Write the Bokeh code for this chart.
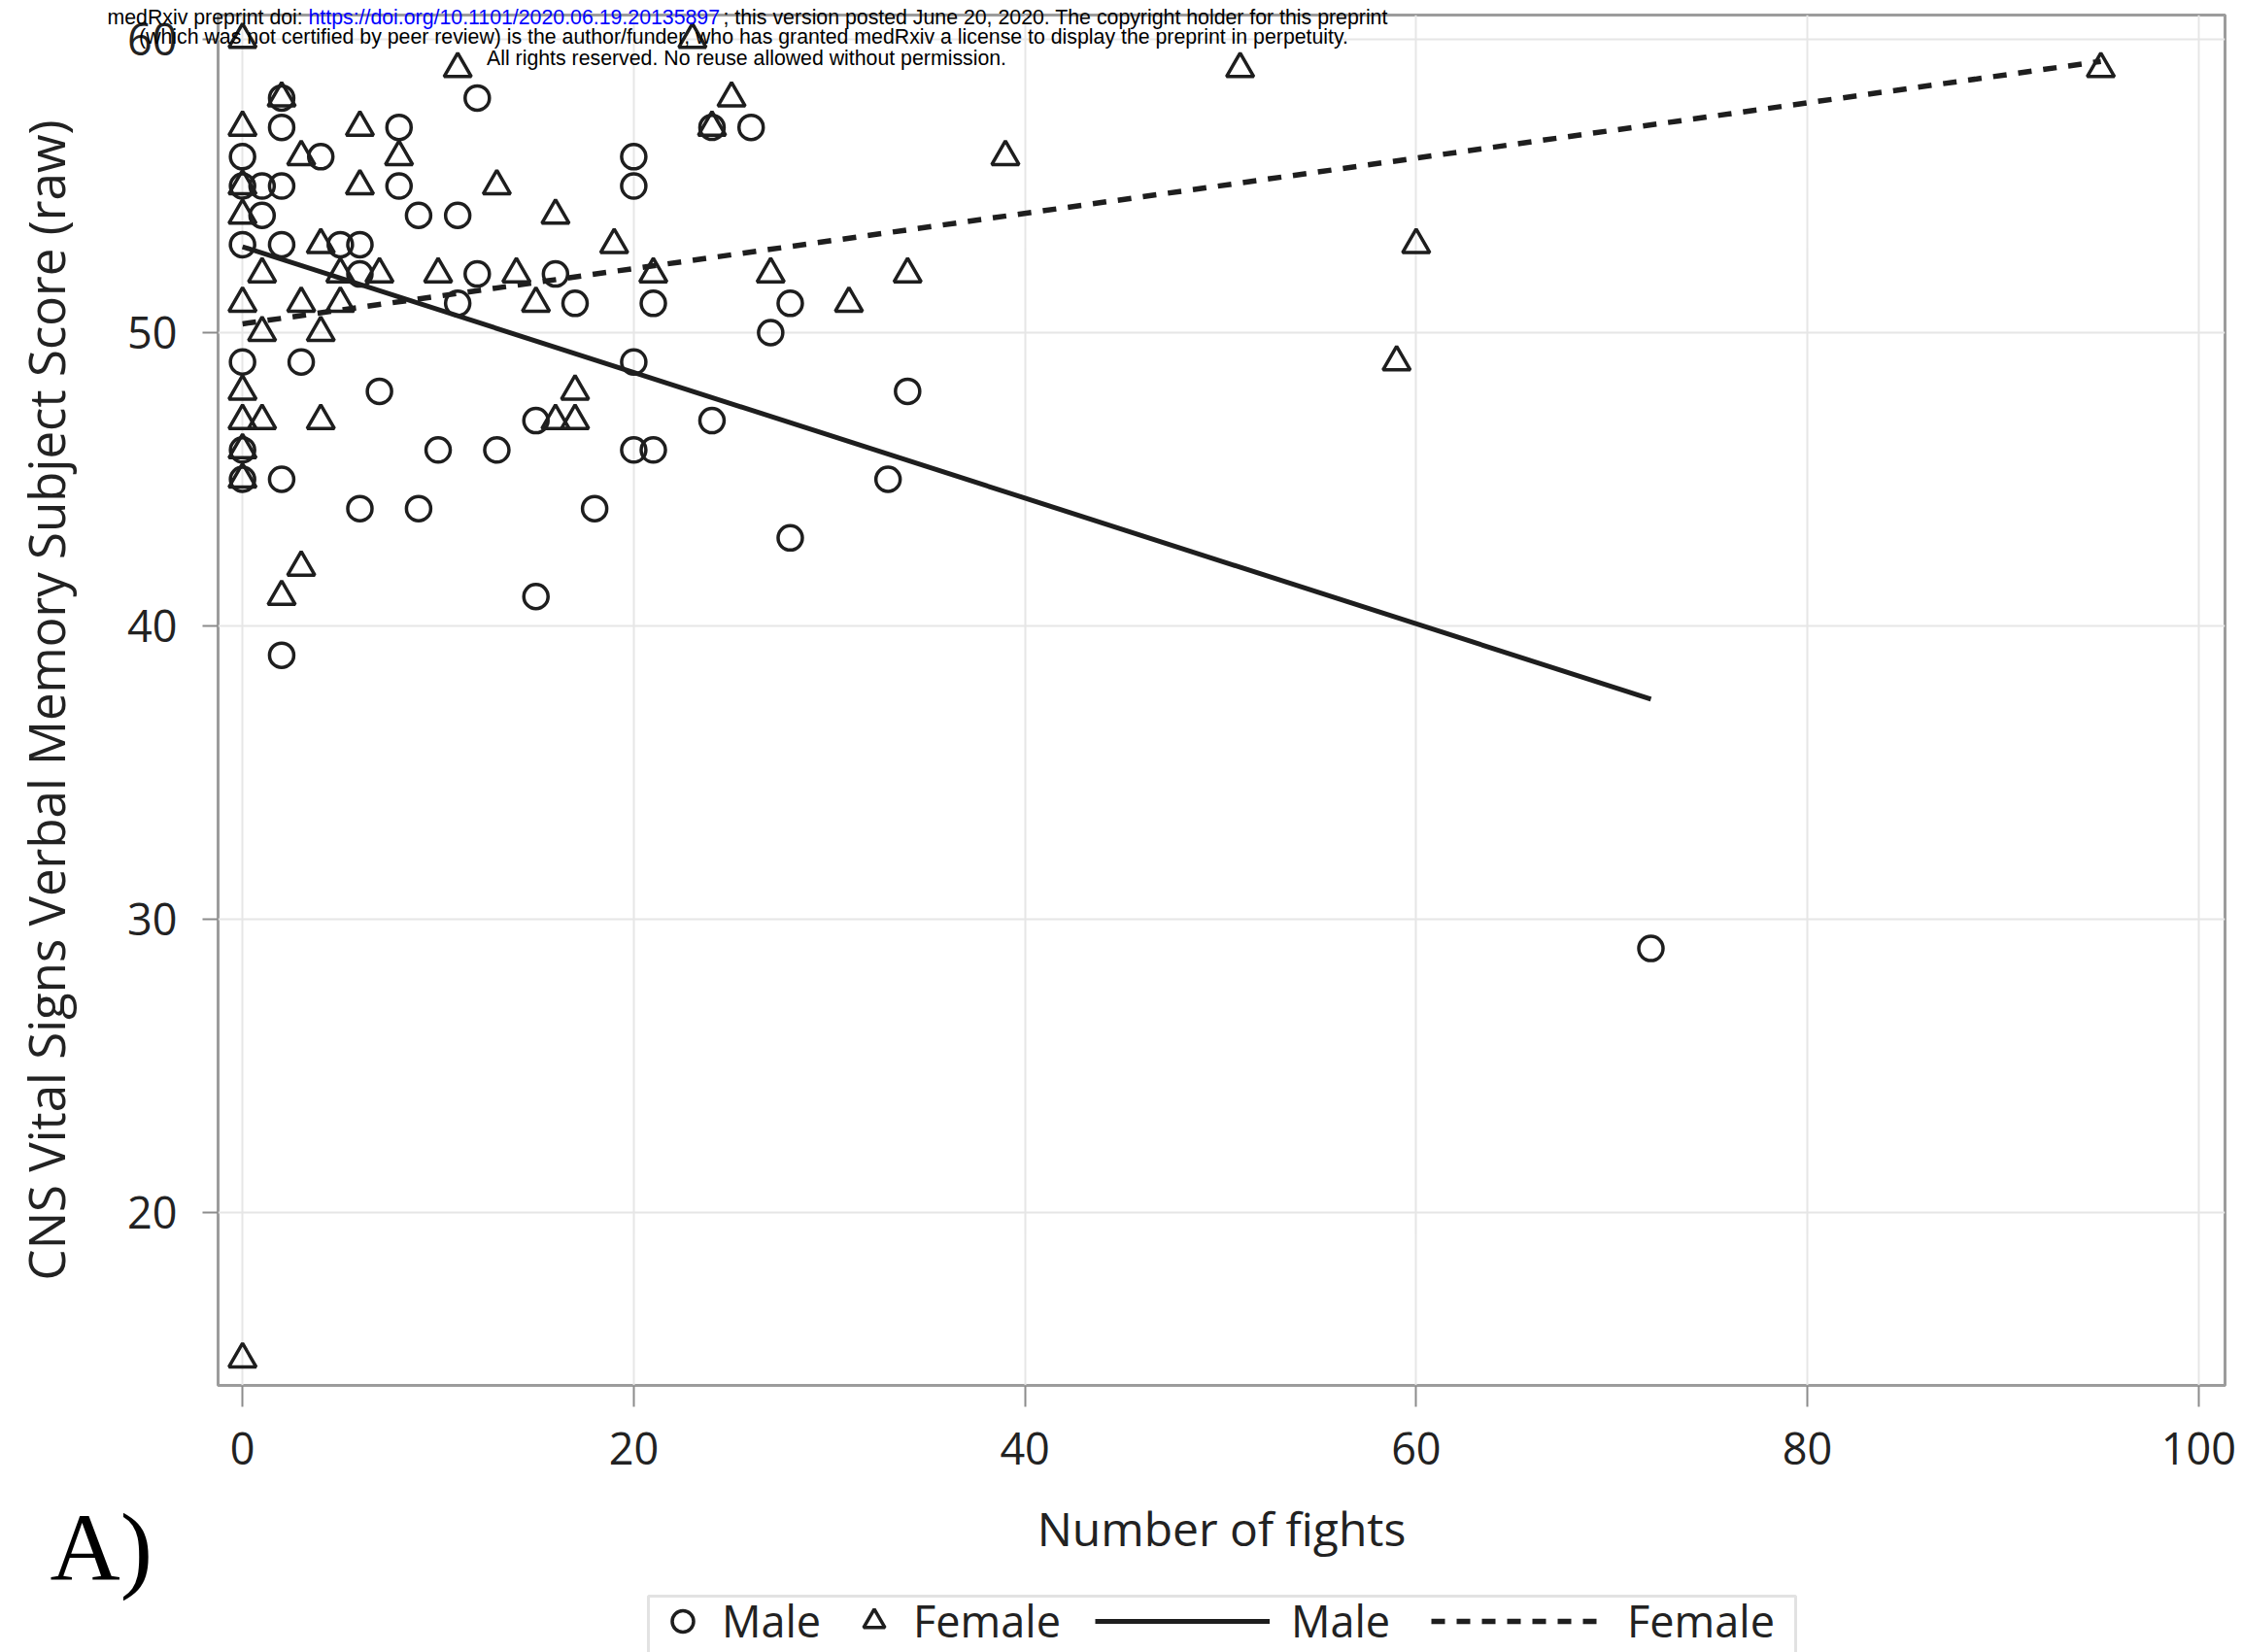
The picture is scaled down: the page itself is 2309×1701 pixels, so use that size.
from bokeh.plotting import figure
from bokeh.models import Label, Legend, LegendItem, BoxAnnotation, FixedTicker, Range1d
from bokeh.embed import file_html
from bokeh.resources import INLINE

# ---------------- data ----------------
male_fights = [0, 0, 1, 2, 8, 20,
               2, 12,
               2, 8, 24, 26,
               4, 20,
               1, 9, 11,
               0, 2, 5, 6,
               6, 12, 16,
               11, 17, 21, 28,
               27,
               0, 3, 20,
               7, 34,
               15, 24,
               0, 10, 13, 20, 21,
               0, 2, 33,
               6, 9, 18,
               28, 15, 2, 72]
male_score = [56, 55, 55, 55, 55, 55,
              58, 58,
              57, 57, 57, 57,
              56, 56,
              54, 54, 54,
              53, 53, 53, 53,
              52, 52, 52,
              51, 51, 51, 51,
              50,
              49, 49, 49,
              48, 48,
              47, 47,
              46, 46, 46, 46, 46,
              45, 45, 45,
              44, 44, 44,
              43, 41, 39, 29]

female_fights = [0, 23,
                 11, 51, 95,
                 2, 25,
                 0, 6, 24,
                 3, 8, 39,
                 0, 6, 13,
                 0, 16,
                 4, 19, 60,
                 1, 5, 7, 10, 14, 21, 27, 34,
                 0, 3, 5, 15, 31,
                 1, 4,
                 59,
                 0, 17,
                 0, 1, 4, 16, 17,
                 0, 0,
                 3, 2,
                 0]
female_score = [60, 60,
                59, 59, 59,
                58, 58,
                57, 57, 57,
                56, 56, 56,
                55, 55, 55,
                54, 54,
                53, 53, 53,
                52, 52, 52, 52, 52, 52, 52, 52,
                51, 51, 51, 51, 51,
                50, 50,
                49,
                48, 48,
                47, 47, 47, 47, 47,
                46, 45,
                42, 41,
                15]

male_fit_x = [0, 72]
male_fit_y = [52.93, 37.5]
female_fit_x = [0, 95]
female_fit_y = [50.3, 59.25]

x_ticks = [0, 20, 40, 60, 80, 100]
y_ticks = [20, 30, 40, 50, 60]

x_label = "Number of fights"
y_label = "CNS Vital Signs Verbal Memory Subject Score (raw)"
legend_labels = ["Male", "Female", "Male", "Female"]

header1a = "medRxiv preprint doi: "
header1b = "https://doi.org/10.1101/2020.06.19.20135897"
header1c = "; this version posted June 20, 2020. The copyright holder for this preprint"
header2 = "(which was not certified by peer review) is the author/funder, who has granted medRxiv a license to display the preprint in perpetuity."
header3 = "All rights reserved. No reuse allowed without permission."
panel_tag = "A)"

# ---------------- main figure ----------------
W, H = 2309, 1701
FL, FR, FT, FB = 224, 2290, 15, 1426   # frame edges in canvas px

p = figure(width=W, height=H, output_backend="svg", toolbar_location=None,
           x_range=Range1d(-1.25, 101.35), y_range=Range1d(14.1, 60.83),
           min_border_left=FL, min_border_right=W - FR,
           min_border_top=FT, min_border_bottom=H - FB)

p.background_fill_color = "white"
p.border_fill_color = "white"
p.outline_line_color = "#9c9c9c"
p.outline_line_width = 3

p.xaxis.ticker = FixedTicker(ticks=x_ticks)
p.yaxis.ticker = FixedTicker(ticks=y_ticks)
p.xgrid.ticker = FixedTicker(ticks=x_ticks)
p.ygrid.ticker = FixedTicker(ticks=y_ticks)
for g in (p.xgrid[0], p.ygrid[0]):
    g.grid_line_color = "#e6e6e6"
    g.grid_line_width = 2

FONT = "Open Sans"
INK = "#1e1e1e"
for ax in (p.xaxis[0], p.yaxis[0]):
    ax.axis_line_color = None
    ax.major_tick_line_color = "#8c8c8c"
    ax.major_tick_line_width = 2
    ax.major_tick_in = 0
    ax.minor_tick_line_color = None
    ax.major_label_text_font = FONT
    ax.major_label_text_font_size = "45px"
    ax.major_label_text_color = "#222222"
    ax.axis_label_text_font = FONT
    ax.axis_label_text_font_style = "normal"
    ax.axis_label_text_color = "#222222"

p.xaxis.axis_label = x_label
p.yaxis.axis_label = y_label
p.xaxis.axis_label_text_font_size = "48px"
p.yaxis.axis_label_text_font_size = "51px"
p.xaxis.major_tick_out = 22
p.yaxis.major_tick_out = 16
p.xaxis.major_label_standoff = 26
p.yaxis.major_label_standoff = 26
p.xaxis.axis_label_standoff = 30
p.yaxis.axis_label_standoff = 46

MARK_M = dict(marker="circle", size=25, fill_color=None, line_color=INK, line_width=3.5)
MARK_F = dict(marker="triangle", size=28, fill_color=None, line_color=INK, line_width=3.5)
LINE_M = dict(line_color=INK, line_width=5)
LINE_F = dict(line_color=INK, line_width=5.5, line_dash="14 12")

p.scatter(male_fights, male_score, **MARK_M)
p.scatter(female_fights, female_score, **MARK_F)
p.line(male_fit_x, male_fit_y, **LINE_M)
p.line(female_fit_x, female_fit_y, **LINE_F)

# ---------------- overlay (header, panel tag, legend) ----------------
# transparent figure laid over the whole page; its data units are page pixels
ov = figure(width=W, height=H, output_backend="svg", toolbar_location=None,
            x_range=Range1d(0, W), y_range=Range1d(H, 0),
            x_axis_type=None, y_axis_type=None,
            min_border=0, min_border_left=0, min_border_right=0,
            min_border_top=0, min_border_bottom=0)
ov.background_fill_color = None
ov.border_fill_color = None
ov.outline_line_color = None
ov.styles = {"position": "absolute", "left": "0px", "top": "0px"}

# hidden copies of the series, used only as legend keys
k_male = ov.scatter(male_fights, male_score, visible=False, **MARK_M)
k_female = ov.scatter(female_fights, female_score, visible=False, **MARK_F)
k_mfit = ov.line(male_fit_x, male_fit_y, visible=False, **LINE_M)
k_ffit = ov.line(female_fit_x, female_fit_y, visible=False, **LINE_F)

ov.add_layout(BoxAnnotation(left=667, right=1848, top=1643, bottom=1760,
                            fill_alpha=0, line_color="#a0a0a0", line_width=3))

LH = 58
PAD = 3
leg_common = dict(orientation="horizontal", border_line_color=None,
                  background_fill_alpha=0, inactive_fill_alpha=0,
                  label_text_font=FONT,
                  label_text_font_size="45px", label_text_color="#222222",
                  padding=PAD, margin=0, label_height=LH, glyph_height=LH)
row_center = 1667
leg_top = row_center - (LH / 2 + PAD)
vy = H - leg_top - (LH + 2 * PAD)

legA = Legend(items=[LegendItem(label=legend_labels[0], renderers=[k_male]),
                     LegendItem(label=legend_labels[1], renderers=[k_female])],
              location=(675, vy), glyph_width=55,
              label_standoff=13, spacing=27, **leg_common)
legB = Legend(items=[LegendItem(label=legend_labels[2], renderers=[k_mfit]),
                     LegendItem(label=legend_labels[3], renderers=[k_ffit])],
              location=(1127, vy), glyph_width=180,
              label_standoff=22, spacing=42, **leg_common)
ov.add_layout(legA)
ov.add_layout(legB)

hdr = dict(text_font="Liberation Sans", text_font_size="21.3px",
           text_baseline="alphabetic")
ov.add_layout(Label(x=110, y=17, text=header1a, text_color="black",
                    text_align="left", **hdr))
ov.add_layout(Label(x=317, y=17, text=header1b, text_color="#0000ff",
                    text_align="left", **hdr))
ov.add_layout(Label(x=744, y=17, text=header1c, text_color="black",
                    text_align="left", **hdr))
ov.add_layout(Label(x=765, y=37, text=header2, text_color="black",
                    text_align="center", **hdr))
ov.add_layout(Label(x=768, y=59, text=header3, text_color="black",
                    text_align="center", **hdr))

ov.add_layout(Label(x=51, y=1593, text=panel_tag, text_font="Liberation Serif",
                    text_font_size="100px", text_color="black",
                    text_align="left", text_baseline="alphabetic"))

open("out.html", "w").write(file_html([p, ov], INLINE))
